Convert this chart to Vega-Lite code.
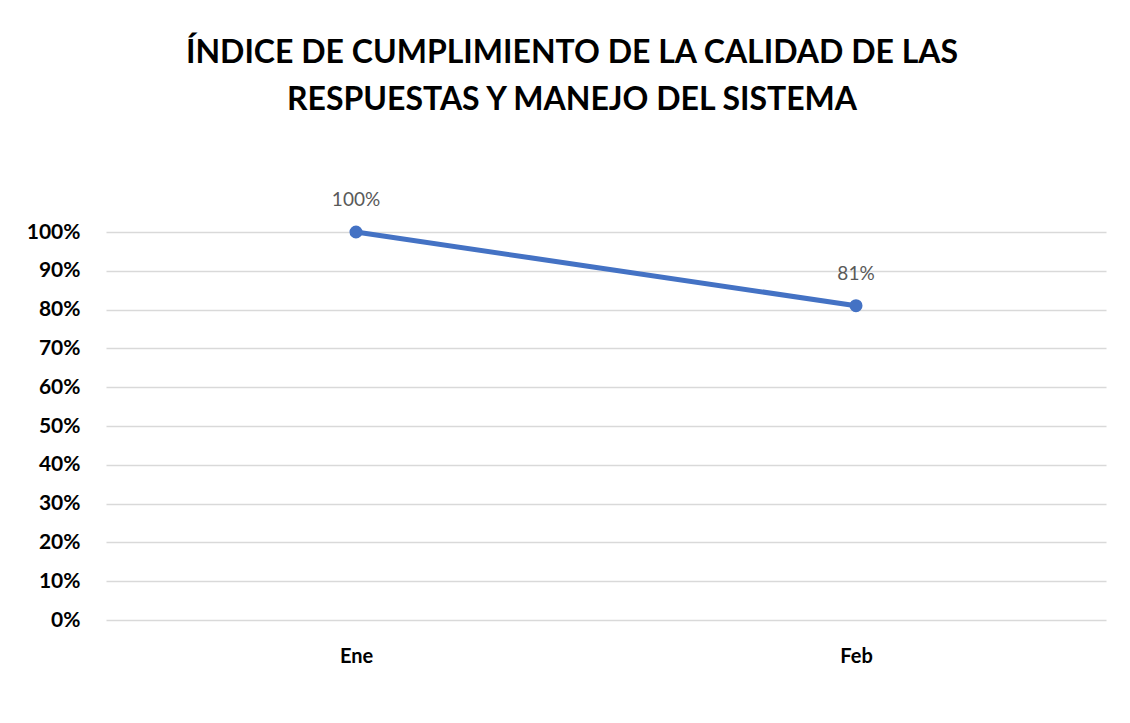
{
  "$schema": "https://vega.github.io/schema/vega-lite/v6.json",
  "autosize": {"type": "none"},
  "width": 1000,
  "height": 388,
  "padding": {"left": 106, "top": 232, "right": 24, "bottom": 103},
  "background": "white",
  "title": {
    "text": ["ÍNDICE DE CUMPLIMIENTO DE LA CALIDAD DE LAS", "RESPUESTAS Y MANEJO DEL SISTEMA"],
    "font": "Lato",
    "fontSize": 32,
    "fontWeight": "bold",
    "color": "#000000",
    "lineHeight": 47,
    "anchor": "middle",
    "frame": "group",
    "dx": -34,
    "offset": 74
  },
  "data": {"values": [
    {"mes": "Ene", "valor": 1.0},
    {"mes": "Feb", "valor": 0.81}
  ]},
  "encoding": {
    "x": {"field": "mes", "type": "nominal", "sort": null,
      "axis": {"title": null, "labelAngle": 0, "domain": false, "ticks": false, "labelFont": "Lato", "labelFontSize": 20, "labelFontWeight": "bold", "labelColor": "#000000", "labelPadding": 26}},
    "y": {"field": "valor", "type": "quantitative",
      "scale": {"domain": [0, 1]},
      "axis": {"title": null, "format": ".0%", "values": [0,0.1,0.2,0.3,0.4,0.5,0.6,0.7,0.8,0.9,1.0], "domain": false, "ticks": false, "labelFont": "Lato", "labelFontSize": 21, "labelFontWeight": "bold", "labelColor": "#000000", "labelPadding": 26, "gridColor": "#d9d9d9", "gridWidth": 1.5}}
  },
  "layer": [
    {"mark": {"type": "line", "color": "#4472C4", "strokeWidth": 5}},
    {"mark": {"type": "point", "filled": true, "color": "#4472C4", "size": 170, "opacity": 1}},
    {"mark": {"type": "text", "dy": -32, "font": "Lato", "fontSize": 19, "color": "#595959"},
     "encoding": {"text": {"field": "valor", "type": "quantitative", "format": ".0%"}}}
  ],
  "config": {"view": {"stroke": null}}
}
